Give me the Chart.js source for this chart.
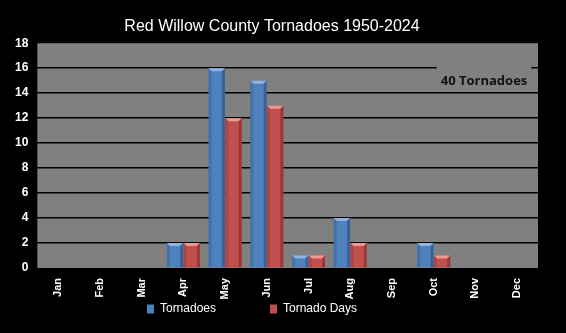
<!DOCTYPE html>
<html>
<head>
<meta charset="utf-8">
<script src="https://cdn.jsdelivr.net/npm/chart.js@4"></script>
<style>
  html, body { margin: 0; padding: 0; background: #000; }
  #wrap { width: 566px; height: 333px; }
</style>
</head>
<body>
<div id="wrap"><canvas id="myChart" width="566" height="333"></canvas></div>
<script>
const months = ["Jan", "Feb", "Mar", "Apr", "May", "Jun", "Jul", "Aug", "Sep", "Oct", "Nov", "Dec"];
const tornadoes = [0, 0, 0, 2, 16, 15, 1, 4, 0, 2, 0, 0];
const tornadoDays = [0, 0, 0, 2, 12, 13, 1, 2, 0, 1, 0, 0];
const yTicks = [0, 2, 4, 6, 8, 10, 12, 14, 16, 18];
const noteText = "40 Tornadoes";

// gray plot area behind the grid
const plotBg = {
  id: "plotBg",
  beforeDraw(chart) {
    const a = chart.chartArea, c = chart.ctx;
    c.save();
    c.fillStyle = "#808080";
    c.fillRect(a.left, a.top, a.right - a.left, a.bottom - a.top);
    c.restore();
  }
};

// bevelled look on the bars
const bevel = {
  id: "bevel",
  afterDatasetsDraw(chart) {
    const c = chart.ctx;
    const shades = [
      { light: "#8fb3e3", dark: "#2f5486" },
      { light: "#ee9896", dark: "#8a2e2c" }
    ];
    chart.data.datasets.forEach((ds, i) => {
      chart.getDatasetMeta(i).data.forEach(bar => {
        const h = bar.base - bar.y;
        if (h <= 0) return;
        const l = bar.x - bar.width / 2, r = bar.x + bar.width / 2;
        const t = bar.y, b = bar.base, e = Math.min(3, h / 2);
        c.save();
        c.fillStyle = shades[i].light;
        c.beginPath();
        c.moveTo(l, t); c.lineTo(r, t); c.lineTo(r - e, t + e); c.lineTo(l + e, t + e);
        c.closePath(); c.fill();
        c.fillStyle = shades[i].dark;
        c.globalAlpha = 0.7;
        c.beginPath();
        c.moveTo(r, t); c.lineTo(r, b); c.lineTo(r - e, b); c.lineTo(r - e, t + e);
        c.closePath(); c.fill();
        c.globalAlpha = 0.35;
        c.beginPath();
        c.moveTo(l, t); c.lineTo(l + e, t + e); c.lineTo(l + e, b); c.lineTo(l, b);
        c.closePath(); c.fill();
        c.restore();
      });
    });
  }
};

// the "40 Tornadoes" text box
const note = {
  id: "note",
  afterDraw(chart) {
    const a = chart.chartArea, c = chart.ctx;
    const cx = a.right - 54, cy = chart.scales.y.getPixelForValue(14.95);
    c.save();
    c.font = "bold 13px 'Open Sans', 'Liberation Sans', Arial, sans-serif";
    const w = c.measureText(noteText).width + 8;
    c.fillStyle = "#808080";
    c.fillRect(cx - w / 2, cy - 16, w, 24);
    c.fillStyle = "#111111";
    c.textAlign = "center";
    c.textBaseline = "middle";
    c.fillText(noteText, cx, cy);
    c.restore();
  }
};

function barGradient(ctx, base, dark) {
  const chart = ctx.chart;
  const bar = ctx.element;
  if (!bar || !chart.chartArea) return base;
  const l = bar.x - bar.width / 2, r = bar.x + bar.width / 2;
  if (!isFinite(l) || !isFinite(r) || r <= l) return base;
  const g = chart.ctx.createLinearGradient(l, 0, r, 0);
  g.addColorStop(0, base);
  g.addColorStop(0.5, base);
  g.addColorStop(1, dark);
  return g;
}

const ctx = document.getElementById("myChart").getContext("2d");
const myChart = new Chart(ctx, {
  type: "bar",
  data: {
    labels: months,
    datasets: [
      {
        label: "Tornadoes",
        data: tornadoes,
        backgroundColor: c => barGradient(c, "#4f81bd", "#3b6396"),
        borderWidth: 0
      },
      {
        label: "Tornado Days",
        data: tornadoDays,
        backgroundColor: c => barGradient(c, "#c0504d", "#9c3d3a"),
        borderWidth: 0
      }
    ]
  },
  options: {
    responsive: false,
    animation: false,
    devicePixelRatio: 1,
    categoryPercentage: 0.8,
    barPercentage: 0.98,
    layout: { padding: { left: 6, right: 28, top: 4, bottom: 8 } },
    plugins: {
      title: {
        display: true,
        text: "Red Willow County Tornadoes 1950-2024",
        color: "#ffffff",
        font: { family: "'Liberation Sans', Arial, sans-serif", size: 16, weight: "normal" },
        padding: { top: 13, bottom: 7 }
      },
      legend: {
        position: "bottom",
        labels: {
          color: "#ffffff",
          boxWidth: 7,
          boxHeight: 9,
          padding: 4,
          font: { family: "'Liberation Sans', Arial, sans-serif", size: 12 },
          generateLabels(chart) {
            const cols = ["#4f81bd", "#c0504d"];
            const tails = ["               ", "            "];
            return chart.data.datasets.map((ds, i) => ({
              text: ds.label + tails[i],
              fillStyle: cols[i],
              strokeStyle: cols[i],
              lineWidth: 0,
              fontColor: "#ffffff",
              datasetIndex: i
            }));
          }
        }
      },
      tooltip: { enabled: false }
    },
    scales: {
      x: {
        grid: { display: false },
        border: { display: false },
        afterFit(axis) { axis.height = 31; },
        ticks: {
          color: "#ffffff",
          minRotation: 90,
          maxRotation: 90,
          padding: 2,
          font: { family: "'Liberation Sans', Arial, sans-serif", size: 11, weight: "bold" }
        }
      },
      y: {
        min: 0,
        max: 18,
        afterBuildTicks(axis) { axis.ticks = yTicks.map(v => ({ value: v })); },
        grid: {
          color: c => (c.tick && c.tick.value > 0 && c.tick.value < 18) ? "#000000" : "rgba(0,0,0,0)",
          lineWidth: 1.5,
          drawTicks: false
        },
        border: { display: false },
        ticks: {
          color: "#ffffff",
          padding: 9,
          font: { family: "'Liberation Sans', Arial, sans-serif", size: 12, weight: "bold" }
        }
      }
    }
  },
  plugins: [plotBg, bevel, note]
});
</script>
</body>
</html>
